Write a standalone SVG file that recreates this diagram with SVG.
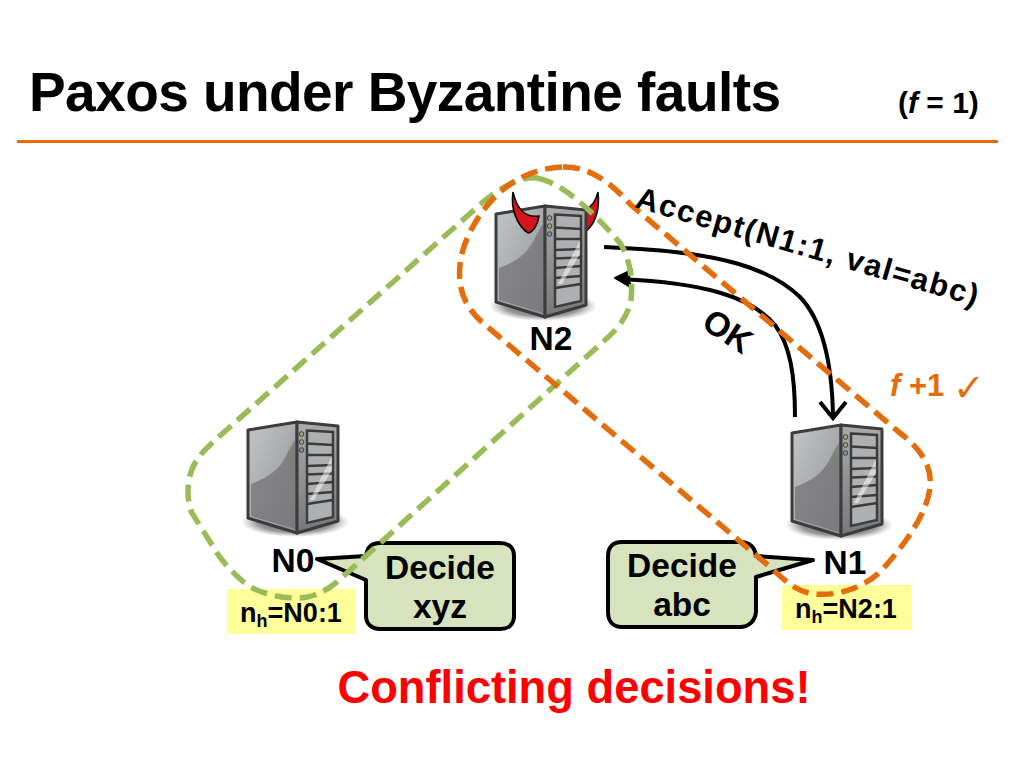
<svg xmlns="http://www.w3.org/2000/svg" xmlns:xlink="http://www.w3.org/1999/xlink" width="1024" height="768" viewBox="0 0 1024 768">
<style>
text{font-family:"Liberation Sans",Arial,sans-serif;font-weight:bold;fill:#000}
.lbl{font-size:33.500px;text-anchor:middle}
.bubble{fill:#d7e3bc;stroke:#000;stroke-width:4;stroke-linejoin:round}
.note{fill:#ffff99}
.nh{font-size:27px;text-anchor:middle}
.dash{fill:none;stroke-width:5.500;stroke-dasharray:17 8}
.arrow{fill:none;stroke:#000;stroke-width:4}
.horn{fill:#d3141a;stroke:#000;stroke-width:1.500}
</style>
<defs>
<linearGradient id="gl" x1="0" y1="0" x2="1" y2="1"><stop offset="0" stop-color="#c4c5c7"/><stop offset="1" stop-color="#8f9092"/></linearGradient>
<linearGradient id="gf" x1="0" y1="0" x2="0" y2="1"><stop offset="0" stop-color="#a9aaab"/><stop offset="1" stop-color="#78797b"/></linearGradient>
<radialGradient id="gs"><stop offset="0" stop-color="#222" stop-opacity=".9"/><stop offset=".7" stop-color="#444" stop-opacity=".55"/><stop offset="1" stop-color="#666" stop-opacity="0"/></radialGradient>
<g id="srv">
<ellipse cx="47" cy="100" rx="54" ry="15" fill="url(#gs)"/>
<path d="M0 8L49 0V111L0 96Z" fill="url(#gl)" stroke="#3c3c3c" stroke-width="3" stroke-linejoin="round"/>
<path d="M3 62C18 56 30 50 38 34C42 26 44 22 47 18V107L3 94Z" fill="#707173" opacity=".7"/>
<path d="M49 0L90 4V99L49 111Z" fill="url(#gf)" stroke="#3c3c3c" stroke-width="3" stroke-linejoin="round"/>
<path d="M59 8.500L85 10V95L59 101Z" fill="#aeafb1" stroke="#3c3c3c" stroke-width="2.500"/>
<path d="M59 21.500L85 23M59 33L85 33M59 44L85 43M59 52.500L85 51.500M59 62L85 60M59 72L85 70M59 82L85 78" fill="none" stroke="#3c3c3c" stroke-width="2.500"/>
<path d="M62 78L84 34V48L66 78Z" fill="#fff" opacity=".5"/>
<circle cx="53.500" cy="12" r="2.300" fill="#a5a86a" stroke="#444"/>
<circle cx="53.500" cy="20" r="2.300" fill="#a5a86a" stroke="#444"/>
<circle cx="53.500" cy="28" r="2.300" fill="#8090a0" stroke="#444"/>
</g>
</defs>
<rect width="1024" height="768" fill="#fff"/>
<text x="29" y="111" font-size="55" textLength="752" lengthAdjust="spacing">Paxos under Byzantine faults</text>
<text x="898" y="113" font-size="30">(<tspan font-style="italic">f</tspan> = 1)</text>
<rect x="17" y="140" width="981" height="3" fill="#e46c0a"/>

<g id="N2">
<path class="horn" d="M598 192C600 208 596 224 585 232V210C592 207 596 200 598 192Z"/>
<use href="#srv" xlink:href="#srv" x="496" y="206"/>
<path class="horn" d="M513 192C516 205 522 218 539 216C538 225 533 232 528 233C518 226 510 210 513 192Z"/>
<text class="lbl" x="551" y="350">N2</text>
</g>
<g id="N1">
<use href="#srv" xlink:href="#srv" x="792" y="425"/>
<text class="lbl" x="845" y="574">N1</text>
</g>
<g id="N0">
<use href="#srv" xlink:href="#srv" x="248" y="422"/>
<text class="lbl" x="293" y="572">N0</text>
</g>
<g id="nhN0"><rect class="note" x="227" y="589" width="129" height="45"/>
<text class="nh" x="291" y="622">n<tspan font-size="18" dy="5">h</tspan><tspan dy="-5">=N0:1</tspan></text></g>
<g id="nhN1"><rect class="note" x="782" y="585" width="129" height="45"/>
<text class="nh" x="846" y="618">n<tspan font-size="18" dy="5">h</tspan><tspan dy="-5">=N2:1</tspan></text></g>

<g id="decideN0">
<path class="bubble" d="M317 559L366 556C367 547 372 543 380 543H500C509 543 514 548 514 556V616C514 624 509 629 500 629H380C372 629 366 624 366 616V580Z"/>
<text class="lbl" x="440" y="579">Decide</text><text class="lbl" x="440" y="618">xyz</text>
</g>
<g id="decideN1">
<path class="bubble" d="M622 542H740C749 542 755 547 756 556L813 560L756 577V612C755 621 749 627 740 627H622C613 627 608 621 608 612V556C608 547 613 542 622 542Z"/>
<text class="lbl" x="682" y="577">Decide</text><text class="lbl" x="682" y="616">abc</text>
</g>

<g id="connectors">
<path class="arrow" d="M604 247L640 249C720 254 770 268 800 297C822 320 832 360 833 416"/>
<path d="M820 402L833 418L846 402" fill="none" stroke="#000" stroke-width="4"/>
<path class="arrow" d="M795 417C795 375 790 345 775 325C750 295 700 283 622 279"/>
<path d="M615 278L632 270L628 279L632 288Z" fill="#000" stroke="#000" stroke-width="2" stroke-linejoin="round"/>
<path class="dash" stroke="#9bbb59" d="M537 178C560 182 590 208 620 243C630 258 633 280 631 300C628 315 620 327 605 340L337 582C322 594 310 598 297 598C280 598 262 594 247 585C235 575 225 565 217 553L192 513C186 500 186 475 197 460C202 452 208 447 213 442L483 202C500 188 520 176 537 178Z"/>
<path class="dash" stroke="#e46c0a" d="M563 167C590 166 612 184 630 204L900 433C925 452 932 470 930 487C928 512 905 545 880 572C860 590 835 596 815 594C795 592 785 580 770 567L483 323C462 305 458 285 460 265C462 240 480 210 500 192C520 175 540 168 563 167Z"/>
</g>

<text id="acceptLabel" font-size="31" transform="translate(634 207) rotate(16.200)" textLength="355" lengthAdjust="spacing">Accept(N1:1, val=abc)</text>
<text id="okLabel" font-size="34" transform="translate(700 327) rotate(33)">OK</text>
<text id="fplus" x="890" y="396" font-size="31" style="fill:#e46c0a"><tspan font-style="italic" style="fill:#e46c0a">f</tspan> +1</text>
<text id="check" x="953" y="401" font-size="38" style="fill:#e46c0a;font-family:'DejaVu Sans',sans-serif;font-weight:normal">✓</text>
<text id="conflict" x="574" y="703" font-size="45.300" text-anchor="middle" style="fill:#ff0000">Conflicting decisions!</text>
</svg>
